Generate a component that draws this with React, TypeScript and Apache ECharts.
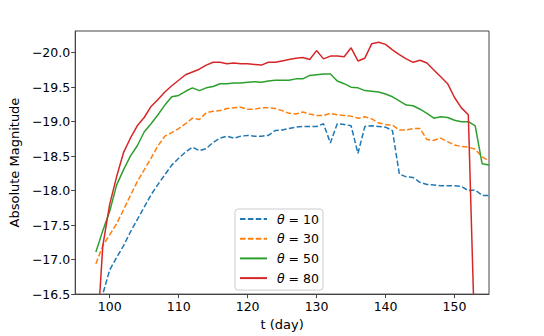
import React, { useEffect, useRef } from "react";
import * as echarts from "echarts";

const days = [
  98, 99, 100, 101, 102, 103, 104, 105, 106, 107, 108, 109, 110, 111, 112, 113, 114, 115, 116, 117,
  118, 119, 120, 121, 122, 123, 124, 125, 126, 127, 128, 129, 130, 131, 132, 133, 134, 135, 136, 137,
  138, 139, 140, 141, 142, 143, 144, 145, 146, 147, 148, 149, 150, 151, 152, 153, 154, 155,
];

const theta10 = [
  -16.2, -16.5, -16.85, -17.03, -17.2, -17.4, -17.58, -17.76, -17.94, -18.09, -18.23, -18.37, -18.47, -18.56, -18.63, -18.58, -18.61, -18.7, -18.76, -18.79,
  -18.76, -18.79, -18.8, -18.79, -18.79, -18.8, -18.87, -18.88, -18.9, -18.92, -18.93, -18.93, -18.93, -18.97, -18.69, -18.97, -18.96, -18.94, -18.54, -18.93,
  -18.94, -18.93, -18.92, -18.87, -18.24, -18.2, -18.19, -18.12, -18.09, -18.08, -18.07, -18.07, -18.07, -18.06, -18.0, -18.01, -17.93, -17.93,
];

const theta30 = [
  -16.94, -17.2, -17.36, -17.52, -17.72, -17.93, -18.13, -18.3, -18.47, -18.65, -18.79, -18.84, -18.9, -18.97, -19.05, -19.03, -19.13, -19.15, -19.16, -19.19,
  -19.2, -19.21, -19.18, -19.18, -19.2, -19.2, -19.19, -19.16, -19.12, -19.11, -19.14, -19.11, -19.09, -19.09, -19.12, -19.1, -19.09, -19.08, -19.05, -19.07,
  -19.04, -18.98, -18.96, -18.95, -18.88, -18.88, -18.9, -18.9, -18.74, -18.73, -18.76, -18.71, -18.66, -18.64, -18.63, -18.6, -18.49, -18.43,
];

const theta50 = [
  -17.11, -17.42, -17.7, -18.08, -18.3, -18.5, -18.65, -18.85, -18.97, -19.1, -19.24, -19.36, -19.38, -19.44, -19.49, -19.45, -19.49, -19.51, -19.55, -19.55,
  -19.56, -19.56, -19.57, -19.58, -19.57, -19.59, -19.6, -19.6, -19.6, -19.62, -19.62, -19.67, -19.68, -19.69, -19.69, -19.59, -19.55, -19.5, -19.49, -19.45,
  -19.44, -19.43, -19.4, -19.36, -19.3, -19.24, -19.23, -19.18, -19.12, -19.05, -19.07, -19.06, -19.02, -19.0, -19.0, -18.94, -18.39, -18.37,
];

const theta80 = [
  -15.6, -17.2, -17.8, -18.2, -18.55, -18.76, -18.94, -19.06, -19.22, -19.32, -19.43, -19.52, -19.6, -19.68, -19.72, -19.76, -19.82, -19.86, -19.86, -19.84,
  -19.85, -19.84, -19.84, -19.83, -19.82, -19.86, -19.86, -19.88, -19.9, -19.92, -19.93, -19.9, -20.03, -19.91, -19.95, -19.95, -19.94, -20.07, -19.88, -19.92,
  -20.13, -20.15, -20.12, -20.04, -19.97, -19.91, -19.86, -19.89, -19.85, -19.75, -19.65, -19.55, -19.35, -19.2, -19.1, -15.6,
];

const xTicks = [100, 110, 120, 130, 140, 150];
const yTicks = [-20.0, -19.5, -19.0, -18.5, -18.0, -17.5, -17.0, -16.5];
const seriesNames = ["θ = 10", "θ = 30", "θ = 50", "θ = 80"];
const colors = ["#1f77b4", "#ff7f0e", "#2ca02c", "#d62728"];

const FONT = "DejaVu Sans";
const FS = 12.5;

function pairs(values: number[]) {
  return values.map((v, i) => [days[i], v]);
}

export default function App() {
  const ref = useRef<HTMLDivElement>(null);

  useEffect(() => {
    if (!ref.current) return;
    const chart = echarts.init(ref.current, undefined, { renderer: "svg" });
    const allData = [theta10, theta30, theta50, theta80];
    const dashed = [true, true, false, false];

    chart.setOption({
      animation: false,
      backgroundColor: "#ffffff",
      grid: {
        left: 66,
        right: 55,
        top: 31,
        bottom: 38,
        show: true,
        borderColor: "#444",
        borderWidth: 1,
        backgroundColor: "transparent",
      },
      legend: {
        orient: "vertical",
        left: 235,
        top: 209,
        padding: [3, 4, 5, 4],
        itemWidth: 27,
        itemHeight: 14,
        itemGap: 5.7,
        backgroundColor: "rgba(255,255,255,0.8)",
        borderColor: "#cccccc",
        borderWidth: 1,
        borderRadius: 3,
        itemStyle: { opacity: 0 },
        data: seriesNames,
        formatter: (name: string) => `{i|θ}{n| = ${name.split("= ")[1]}}`,
        textStyle: {
          fontFamily: FONT,
          fontSize: FS,
          color: "#000",
          lineHeight: 14,
          rich: {
            i: { fontFamily: FONT, fontSize: FS, fontStyle: "italic", color: "#000", lineHeight: 14, padding: [0, 0, 0, 5] },
            n: { fontFamily: FONT, fontSize: FS, color: "#000", lineHeight: 14 },
          },
        },
      },
      xAxis: {
        type: "value",
        min: 95,
        max: 155,
        name: "t (day)",
        nameLocation: "middle",
        nameGap: 21,
        nameTextStyle: { fontFamily: FONT, fontSize: 13, color: "#000" },
        axisLine: { show: true, lineStyle: { color: "#444", width: 1 } },
        axisTick: { show: true, inside: false, length: 4, lineStyle: { color: "#444" }, customValues: xTicks },
        axisLabel: {
          customValues: xTicks,
          margin: 6,
          fontFamily: FONT,
          fontSize: FS,
          color: "#000",
          formatter: (v: number) => String(v),
        },
        splitLine: { show: false },
      },
      yAxis: {
        type: "value",
        inverse: true,
        min: -20.314,
        max: -16.5,
        name: "Absolute Magnitude",
        nameLocation: "middle",
        nameGap: 54,
        nameRotate: 90,
        nameTextStyle: { fontFamily: FONT, fontSize: 13, color: "#000" },
        axisLine: { show: true, lineStyle: { color: "#444", width: 1 } },
        axisTick: { show: true, inside: false, length: 4, lineStyle: { color: "#444" }, customValues: yTicks },
        axisLabel: {
          customValues: yTicks,
          margin: 5,
          fontFamily: FONT,
          fontSize: FS,
          color: "#000",
          formatter: (v: number) => v.toFixed(1).replace("-", "\u2212"),
        },
        splitLine: { show: false },
      },
      series: allData.map((vals, k) => ({
        name: seriesNames[k],
        type: "line",
        data: pairs(vals),
        symbol: "none",
        showSymbol: false,
        legendIcon: "path://M0,0",
        clip: true,
        color: colors[k],
        lineStyle: {
          color: colors[k],
          width: 1.5,
          type: dashed[k] ? [5.5, 2.4] : "solid",
        },
        emphasis: { disabled: true },
      })),
    });

    return () => chart.dispose();
  }, []);

  return (
    <div
      ref={ref}
      style={{ position: "fixed", left: 0, top: 0, width: 544, height: 336 }}
    />
  );
}
